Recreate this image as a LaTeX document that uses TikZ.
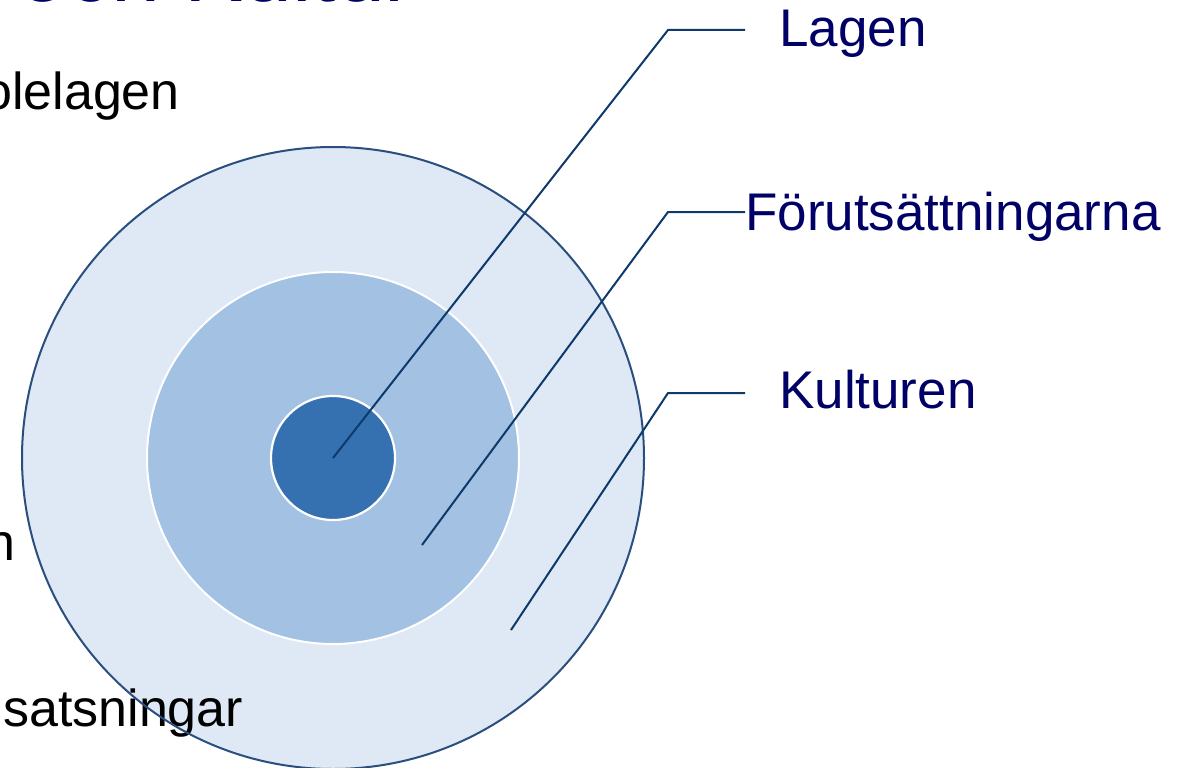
\documentclass[tikz,border=0pt]{standalone}
\usepackage{fontspec}
\setmainfont{Liberation Sans}
\definecolor{navytext}{HTML}{000066}
\definecolor{leader}{HTML}{0D3A6B}
\definecolor{outerfill}{HTML}{DFE8F5}
\definecolor{outerline}{HTML}{2A4F7E}
\definecolor{midfill}{HTML}{A2C1E3}
\definecolor{innerfill}{HTML}{3571B1}
\tikzset{
  ring/.style={circle, minimum size=#1, inner sep=0pt},
  leaderline/.style={draw=leader, line width=2pt},
  label/.style={font=\fontsize{53}{60}\selectfont, text=navytext, inner sep=0pt},
  sidetext/.style={font=\fontsize{52}{58}\selectfont, text=black, inner sep=0pt},
  titletext/.style={font=\fontsize{88}{96}\selectfont, text=navytext, inner sep=0pt}
}
\begin{document}
\begin{tikzpicture}[x=1pt,y=-1pt]
\useasboundingbox (0,0) rectangle (1178,768);
\fill[white] (0,0) rectangle (1178,768);
% title fragment (cut at top)
\node[titletext, anchor=base west] (title) at (18,1.5) {och Kultur};
% circles
\node[ring=622pt, fill=outerfill] (outer) at (333,458) {};
% side texts
\node[sidetext, anchor=base west] (t1) at (-17,110) {olelagen};
\node[sidetext, anchor=base east] (t2) at (16,560) {n};
\node[sidetext, anchor=base west] (t3) at (3,726) {satsningar};
\node[ring=622pt, draw=outerline, line width=2pt] (outerb) at (333,458) {};
\node[ring=372pt, fill=midfill, draw=white, line width=2pt] (mid) at (333,458) {};
\node[ring=124pt, fill=innerfill, draw=white, line width=2.2pt] (inner) at (333,458) {};
% leader endpoints
\coordinate (a0) at (333,458);
\coordinate (a1) at (668,30);
\coordinate (a2) at (745,30);
\coordinate (b0) at (422,545);
\coordinate (b1) at (668,212);
\coordinate (b2) at (745,212);
\coordinate (c0) at (511,630);
\coordinate (c1) at (668,393);
\coordinate (c2) at (745,393);
\draw[leaderline] (a0) -- (a1) -- (a2);
\draw[leaderline] (b0) -- (b1) -- (b2);
\draw[leaderline] (c0) -- (c1) -- (c2);
% labels
\node[label, anchor=base west] (lagen) at (779,47) {Lagen};
\node[label, anchor=base west] (forut) at (745,230) {Förutsättningarna};
\node[label, anchor=base west] (kultur) at (779,408) {Kulturen};
\end{tikzpicture}
\end{document}
